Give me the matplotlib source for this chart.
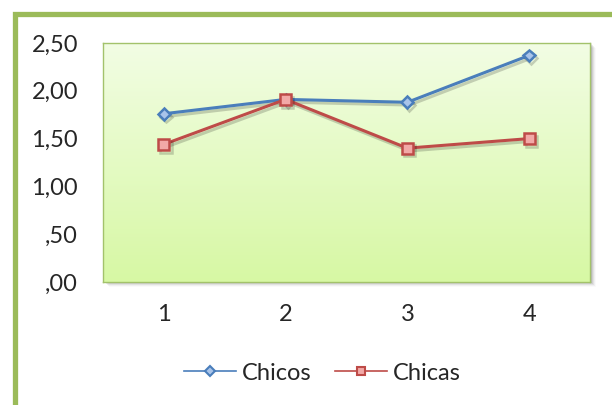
import numpy as np
import matplotlib
matplotlib.use("Agg")
import matplotlib.pyplot as plt
from matplotlib.patches import Rectangle
from matplotlib.lines import Line2D
import matplotlib.patheffects as pe

# Data
categories = [1, 2, 3, 4]
chicos = [1.76, 1.91, 1.88, 2.37]
chicas = [1.44, 1.91, 1.40, 1.50]
y_ticks = [0.0, 0.5, 1.0, 1.5, 2.0, 2.5]
y_tick_labels = [",00", ",50", "1,00", "1,50", "2,00", "2,50"]

plt.rcParams['font.family'] = ['Lato', 'DejaVu Sans']

W, H = 612, 405
fig = plt.figure(figsize=(W / 100, H / 100), dpi=100)
fig.patch.set_facecolor("white")

def fx(px):
    return px / W

def fy(py):
    return 1 - py / H

# Outer green frame (continues past the right and bottom edges)
fig.patches.append(Rectangle((fx(14.5), fy(500)), fx(700), fy(14.5) - fy(500),
                             transform=fig.transFigure, fill=False,
                             edgecolor="#9bbb59", linewidth=3.8, zorder=0))

left, right, top, bottom = 103, 590, 43, 282
ax_rect = [fx(left), fy(bottom), fx(right - left), fy(top) - fy(bottom)]

# Soft drop shadow of the plot area
for i, a in enumerate([0.10, 0.08, 0.06, 0.04, 0.02]):
    off = 1 + i
    fig.patches.append(Rectangle((fx(left + off + 1), fy(bottom + off)),
                                 fx(right - left), fy(top) - fy(bottom),
                                 transform=fig.transFigure, facecolor="black",
                                 edgecolor="none", alpha=a, zorder=0.5))

ax = fig.add_axes(ax_rect, zorder=1)

# Vertical gradient fill of the plot area
top_c = np.array([0xf2, 0xfd, 0xe4]) / 255
bot_c = np.array([0xd7, 0xf8, 0xa4]) / 255
t = np.linspace(0, 1, 256)[:, None]
grad = (top_c * (1 - t) + bot_c * t)[:, None, :]
ax.imshow(grad, extent=[0, 1, 0, 1], transform=ax.transAxes,
          aspect="auto", zorder=0, interpolation="bilinear")

shadow = [pe.SimpleLineShadow(offset=(1.5, -2), shadow_color="black", alpha=0.18),
          pe.Normal()]

ax.plot(categories, chicos, color="#4a7ebb", linewidth=2.2, marker="D",
        markersize=6, markerfacecolor="#a9c4ea", markeredgecolor="#4a7ebb",
        markeredgewidth=1.8, zorder=3, path_effects=shadow)
ax.plot(categories, chicas, color="#be4b48", linewidth=2.2, marker="s",
        markersize=8, markerfacecolor="#f2a9a7", markeredgecolor="#be4b48",
        markeredgewidth=1.8, zorder=3, path_effects=shadow)

ax.set_xlim(0.5, 4.5)
ax.set_ylim(0, 2.5)
ax.set_xticks(categories)
ax.set_xticklabels([str(c) for c in categories])
ax.set_yticks(y_ticks)
ax.set_yticklabels(y_tick_labels)
ax.tick_params(axis="both", length=0, labelsize=17, colors="#262626")
ax.tick_params(axis="y", pad=18)
ax.tick_params(axis="x", pad=16)
for s in ax.spines.values():
    s.set_color("#a3c26b")
    s.set_linewidth(1.0)

handles = [
    Line2D([], [], color="#4a7ebb", linewidth=1.2, marker="D", markersize=5,
           markerfacecolor="#a9c4ea", markeredgecolor="#4a7ebb", markeredgewidth=1.5),
    Line2D([], [], color="#be4b48", linewidth=1.2, marker="s", markersize=6,
           markerfacecolor="#f2a9a7", markeredgecolor="#be4b48", markeredgewidth=1.5),
]
fig.legend(handles, ["Chicos", "Chicas"], loc="center",
           bbox_to_anchor=(fx(322), fy(373)), ncol=2, frameon=False,
           fontsize=17, handlelength=2.2, handletextpad=0.25,
           columnspacing=1.0, labelcolor="#262626")

fig.savefig("out.png", dpi=100)
